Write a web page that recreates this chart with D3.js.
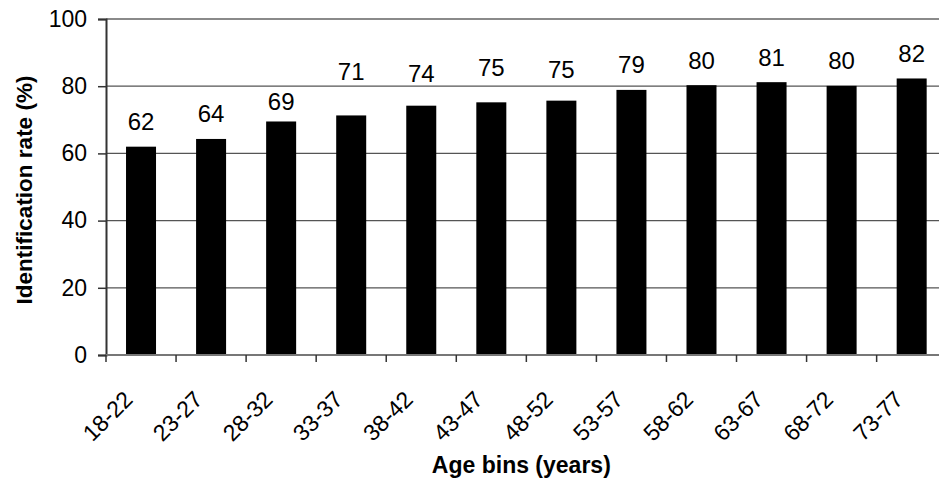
<!DOCTYPE html>
<html>
<head>
<meta charset="utf-8">
<script src="https://cdn.jsdelivr.net/npm/d3@7"></script>
<style>
  html, body { margin: 0; padding: 0; background: #fff; }
  svg { display: block; font-family: "Liberation Sans", Arial, sans-serif; }
</style>
</head>
<body>
<svg id="chart" width="939" height="483"></svg>
<script>
const categories = ["18-22","23-27","28-32","33-37","38-42","43-47","48-52","53-57","58-62","63-67","68-72","73-77"];
const values = [62.0, 64.3, 69.5, 71.3, 74.2, 75.2, 75.7, 78.9, 80.3, 81.2, 80.1, 82.3];
const labels = ["62","64","69","71","74","75","75","79","80","81","80","82"];
const labelAt = [67.0, 69.4, 72.9, 81.8, 81.3, 83.0, 82.4, 83.8, 85.0, 86.0, 85.2, 87.1];
const yTicks = [0, 20, 40, 60, 80, 100];

(function () {
const svg = d3.select("#chart");
const mLeft = 106, mRight = 946.7, mTop = 19, mBottom = 355;

const x = d3.scaleBand().domain(categories).range([mLeft, mRight]).paddingInner(0).paddingOuter(0);
const y = d3.scaleLinear().domain([0, 100]).range([mBottom, mTop]);
const barW = 30;

// gridlines
svg.append("g").selectAll("line").data(yTicks.filter(d => d > 0)).join("line")
  .attr("x1", mLeft).attr("x2", mRight)
  .attr("y1", d => y(d)).attr("y2", d => y(d))
  .attr("stroke", d => d === 100 ? "#8a8a8a" : "#555")
  .attr("stroke-width", d => d === 100 ? 2 : 1.2);

// bars
svg.append("g").selectAll("rect").data(categories).join("rect")
  .attr("x", (d) => x(d) + x.bandwidth() / 2 - barW / 2)
  .attr("width", barW)
  .attr("y", (d, i) => y(values[i]))
  .attr("height", (d, i) => y(0) - y(values[i]))
  .attr("fill", "#000");

// data labels
svg.append("g").selectAll("text").data(categories).join("text")
  .attr("x", d => x(d) + x.bandwidth() / 2)
  .attr("y", (d, i) => y(labelAt[i]))
  .attr("text-anchor", "middle")
  .attr("font-size", 24)
  .attr("fill", "#000")
  .text((d, i) => labels[i]);

// y axis
const yAxis = d3.axisLeft(y).tickValues(yTicks).tickSize(8).tickPadding(11);
const gy = svg.append("g").attr("transform", `translate(${mLeft},0)`).call(yAxis);
gy.select(".domain").attr("stroke", "#333").attr("stroke-width", 2);
gy.selectAll(".tick line").attr("stroke", "#333").attr("stroke-width", 1.5);
gy.selectAll(".tick text").attr("font-size", 23).attr("fill", "#000")
  .attr("font-family", "Liberation Sans, Arial, sans-serif");

// x axis baseline
svg.append("line").attr("x1", mLeft).attr("x2", mRight)
  .attr("y1", mBottom).attr("y2", mBottom)
  .attr("stroke", "#777").attr("stroke-width", 2.2);

// x tick marks at band boundaries
const bounds = categories.map(d => x(d)).concat([mRight]);
svg.append("g").selectAll("line").data(bounds).join("line")
  .attr("x1", d => d).attr("x2", d => d)
  .attr("y1", mBottom).attr("y2", mBottom + 7)
  .attr("stroke", "#333").attr("stroke-width", 1.5);

// x tick labels
svg.append("g").selectAll("text").data(categories).join("text")
  .attr("transform", d => `translate(${x(d) + x.bandwidth() / 2 - 7},${mBottom + 46}) rotate(-45)`)
  .attr("text-anchor", "end")
  .attr("font-size", 23)
  .attr("fill", "#000")
  .text(d => d);

// axis titles
svg.append("text")
  .attr("x", (mLeft + mRight) / 2 - 5).attr("y", 473)
  .attr("text-anchor", "middle")
  .attr("font-size", 23).attr("font-weight", "bold")
  .text("Age bins (years)");

svg.append("text")
  .attr("transform", `translate(32,190) rotate(-90)`)
  .attr("text-anchor", "middle")
  .attr("font-size", 22.5).attr("font-weight", "bold")
  .text("Identification rate (%)");
})();
</script>
</body>
</html>
